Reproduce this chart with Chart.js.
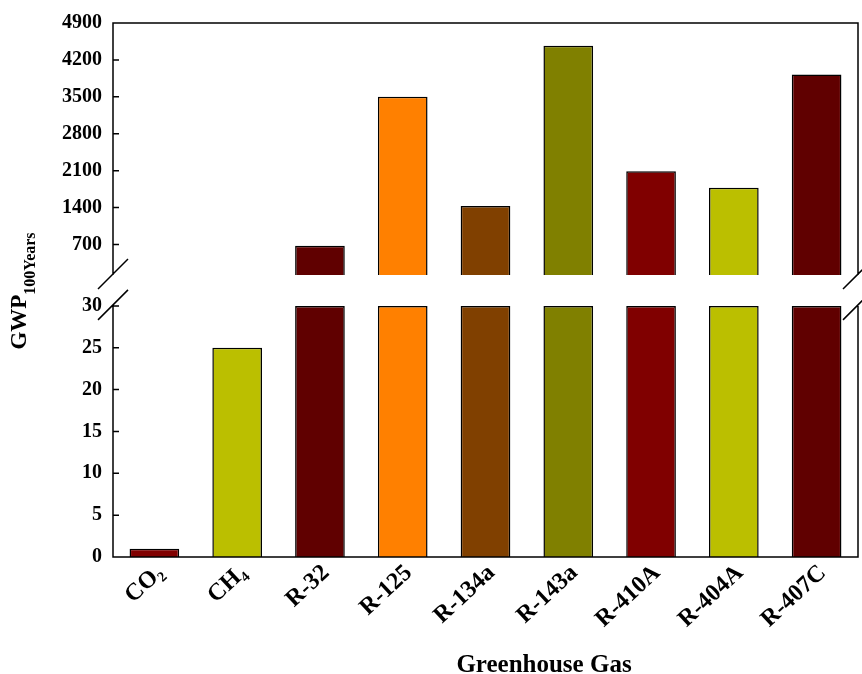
<!DOCTYPE html>
<html lang="en">
<head>
    <meta charset="UTF-8">
    <title>GWP of Greenhouse Gases</title>
    <script src="https://cdn.jsdelivr.net/npm/chart.js@4.4.1/dist/chart.umd.min.js"></script>
    <style>
        html, body { margin: 0; padding: 0; background: #fff; }
        #wrap { width: 862px; height: 674px; position: relative; }
    </style>
</head>
<body>
    <div id="wrap"><canvas id="gwpChart"></canvas></div>

    <script>
        // Data
        const categories = ['CO₂', 'CH₄', 'R-32', 'R-125', 'R-134a', 'R-143a', 'R-410A', 'R-404A', 'R-407C'];
        const gwpValues = [1, 25, 677, 3500, 1430, 4470, 2088, 1774, 3922];
        const barColors = ['#800000', '#bbbf00', '#600000', '#ff8000', '#804000', '#808000', '#800000', '#bbbf00', '#600000'];

        // Broken axis: lower part 0..30, upper part 700..4900
        const lowTickValues = [0, 5, 10, 15, 20, 25, 30];
        const highTickValues = [700, 1400, 2100, 2800, 3500, 4200, 4900];
        const LOW_CAP = 30;       // lower panel stops here
        const LOW_MAX = 31.9;     // lower axis runs a bit past the cap (gap)
        const HIGH_MIN = -163;    // upper axis starts below its first bar (gap)
        const HIGH_BASE = 120;    // where the upper bar pieces begin
        const HIGH_MAX = 4900;

        const serif = 'Liberation Serif, Times New Roman, serif';

        const lowData = gwpValues.map(v => Math.min(v, LOW_CAP));
        const highData = gwpValues.map(v => v > LOW_CAP ? [HIGH_BASE, v] : null);

        // frame, broken axis lines, break marks, inward ticks, axis titles
        const breakPlugin = {
            id: 'axisBreak',
            afterDatasetsDraw(chart) {
                const { ctx, chartArea: a, scales } = chart;
                const yTop = scales.yHigh.getPixelForValue(HIGH_BASE);
                const yBot = scales.yLow.getPixelForValue(LOW_CAP);
                ctx.save();
                ctx.strokeStyle = '#000';
                ctx.lineWidth = 1.5;
                ctx.beginPath();
                ctx.moveTo(a.left, yTop);
                ctx.lineTo(a.left, a.top);
                ctx.lineTo(a.right, a.top);
                ctx.lineTo(a.right, yTop);
                ctx.moveTo(a.left, yBot);
                ctx.lineTo(a.left, a.bottom);
                ctx.lineTo(a.right, a.bottom);
                ctx.lineTo(a.right, yBot);
                // break marks
                [a.left, a.right].forEach(x => {
                    [yTop - 1, yBot - 1].forEach(y => {
                        ctx.moveTo(x - 15, y + 15);
                        ctx.lineTo(x + 15, y - 15);
                    });
                });
                // tick marks pointing in
                lowTickValues.forEach(v => {
                    const y = scales.yLow.getPixelForValue(v);
                    ctx.moveTo(a.left, y);
                    ctx.lineTo(a.left + 6, y);
                });
                highTickValues.forEach(v => {
                    const y = scales.yHigh.getPixelForValue(v);
                    ctx.moveTo(a.left, y);
                    ctx.lineTo(a.left + 6, y);
                });
                ctx.stroke();
                ctx.restore();
            },
            afterDraw(chart) {
                const { ctx } = chart;
                ctx.save();
                ctx.fillStyle = '#000';
                // x title
                ctx.font = 'bold 25px ' + serif;
                ctx.textAlign = 'center';
                ctx.textBaseline = 'alphabetic';
                ctx.fillText('Greenhouse Gas', 544, 672);
                // y title with subscript
                const main = 'GWP', sub = '100Years';
                ctx.font = 'bold 23px ' + serif;
                const wMain = ctx.measureText(main).width;
                ctx.font = 'bold 16px ' + serif;
                const wSub = ctx.measureText(sub).width;
                ctx.translate(26, 291 + (wMain + wSub) / 2);
                ctx.rotate(-Math.PI / 2);
                ctx.textAlign = 'left';
                ctx.font = 'bold 23px ' + serif;
                ctx.fillText(main, 0, 0);
                ctx.font = 'bold 16px ' + serif;
                ctx.fillText(sub, wMain, 9);
                ctx.restore();
            }
        };

        const yTickFont = { family: serif, size: 20, weight: 'bold' };

        function barSet(data, axis) {
            return {
                data: data,
                yAxisID: axis,
                backgroundColor: barColors,
                borderColor: '#000',
                borderWidth: 1.5,
                grouped: false,
                barPercentage: 0.6,
                categoryPercentage: 1
            };
        }

        new Chart(document.getElementById('gwpChart'), {
            type: 'bar',
            data: {
                labels: categories,
                datasets: [barSet(lowData, 'yLow'), barSet(highData, 'yHigh')]
            },
            options: {
                responsive: true,
                maintainAspectRatio: false,
                animation: false,
                layout: { padding: { top: 19, right: 4, left: 0, bottom: 0 } },
                plugins: {
                    legend: { display: false },
                    tooltip: { enabled: false }
                },
                scales: {
                    x: {
                        grid: { display: false, drawTicks: false },
                        border: { display: false },
                        ticks: {
                            color: '#000',
                            font: { family: serif, size: 24, weight: 'bold' },
                            minRotation: 43,
                            maxRotation: 43,
                            labelOffset: 6,
                            padding: 2
                        },
                        afterFit: s => { s.height = 117; }
                    },
                    yLow: {
                        position: 'left',
                        stack: 'gwp',
                        stackWeight: 1,
                        weight: 0,
                        min: 0,
                        max: LOW_MAX,
                        grid: { display: false, drawTicks: false },
                        border: { display: false },
                        afterBuildTicks: s => { s.ticks = lowTickValues.map(v => ({ value: v })); },
                        ticks: {
                            color: '#000',
                            font: yTickFont,
                            padding: 11,
                            callback: v => String(v)
                        },
                        afterFit: s => { s.width = 113; }
                    },
                    yHigh: {
                        position: 'left',
                        stack: 'gwp',
                        stackWeight: 1,
                        weight: 1,
                        min: HIGH_MIN,
                        max: HIGH_MAX,
                        grid: { display: false, drawTicks: false },
                        border: { display: false },
                        afterBuildTicks: s => { s.ticks = highTickValues.map(v => ({ value: v })); },
                        ticks: {
                            color: '#000',
                            font: yTickFont,
                            padding: 11,
                            callback: v => String(v)
                        },
                        afterFit: s => { s.width = 113; }
                    }
                }
            },
            plugins: [breakPlugin]
        });
    </script>
</body>
</html>
